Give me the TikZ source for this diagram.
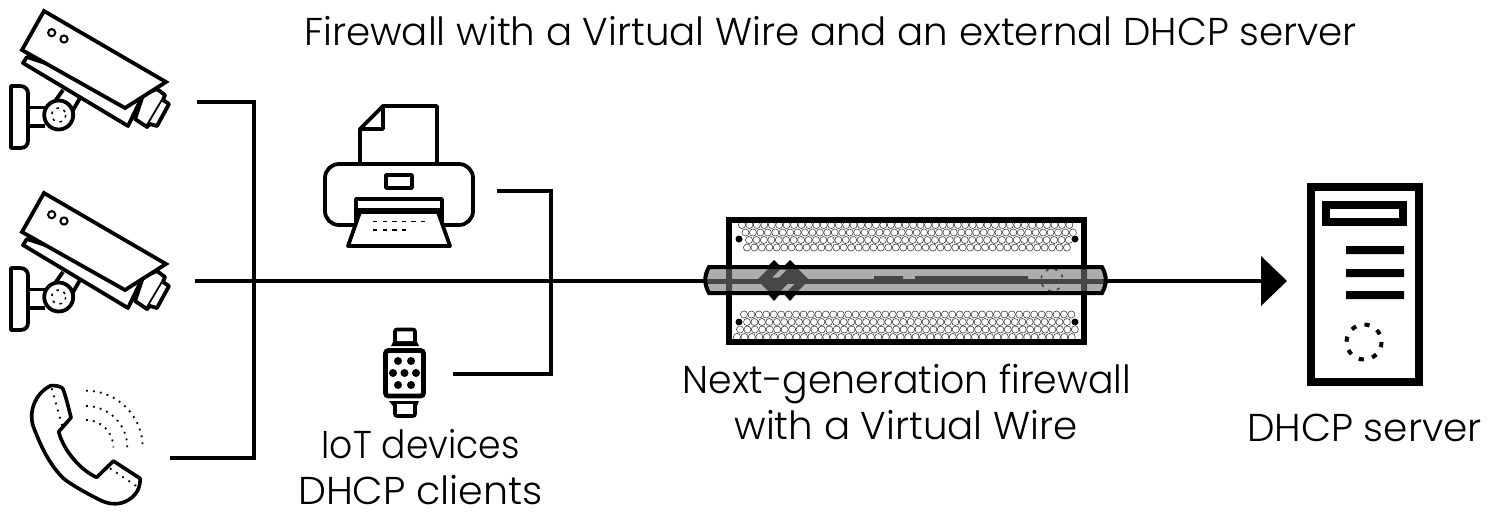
\documentclass[tikz,border=0pt]{standalone}
\usepackage{fontspec}
\usepackage{graphicx}
\setmainfont{Poppins Light}
\usetikzlibrary{calc}
\definecolor{barfill}{gray}{0.68}
\definecolor{bardark}{gray}{0.28}
\tikzset{
  px/.style={x=0.5pt,y=-0.5pt},
  icon/.style={draw=black,line width=1.9pt,line join=miter,fill=white},
  thin icon/.style={draw=black,line width=1.9pt,line join=round},
  wire/.style={draw=black,line width=2.4pt},
  lab/.style={font=\fontsize{19.4}{22}\selectfont,inner sep=0pt,anchor=base,align=center},
  hex/.style={draw=black!75,line width=0.3pt},
  camera/.pic={
    \draw[thin icon,fill=white] (11,86)--(20,86) .. controls (26,86) and (28,90) .. (28,94)--(28,140) .. controls (28,145) and (26,148) .. (20,148)--(11,148)--cycle;
    \draw[thin icon] (28,107.5)--(45,107.5) (28,126)--(45,126);
    \draw[thin icon] (63,90)--(53,104) (80,98)--(72,112);
    \draw[thin icon,fill=white] (58.7,115) circle (14.5);
    \draw[black,line width=0.75pt,dash pattern=on 1.3pt off 2.5pt] (58.7,115) circle (7);
    \draw[thin icon,fill=white] (27,57)--(23,63)--(128,126)--(143,95)--cycle;
    \draw[thin icon,fill=white] (143,95)--(157,89)--(165,95)--(163,100)--(147,127)--(135,119)--cycle;
    \draw[thin icon,fill=white] (163,100)--(169,104)--(157,126)--(150,124)--(147,127);
    \draw[icon] (44,11)--(166,82)--(125,108)--(22,50)--cycle;
    \draw[black,line width=1pt] (51.7,32.7) circle (3.6) (64,39) circle (3.6);
  }
}
\begin{document}
\begin{tikzpicture}[px]
\useasboundingbox (0,0) rectangle (1500,525);
% wires
\coordinate (trunkL) at (195,281);
\coordinate (tip) at (1265,281);
\coordinate (a1) at (197,102); \coordinate (a2) at (254,102); \coordinate (a3) at (254,458); \coordinate (a4) at (170,458);
\coordinate (b1) at (497,191); \coordinate (b2) at (551,191); \coordinate (b3) at (551,374); \coordinate (b4) at (453,374);
\draw[wire] (a1)--(a2)--(a3)--(a4);
\draw[wire] (b1)--(b2)--(b3)--(b4);
\draw[wire] (trunkL)--(tip);
\fill[black] (1261,256)--(1287,281)--(1261,306)--cycle;
% cameras
\pic at (0,0) {camera};
\pic at (0,182) {camera};
% phone
\begin{scope}[shift={(0,370)},x=0.1667pt,y=-0.1667pt]
\draw[thin icon,line width=1.8pt] (152,47) .. controls (165,46) and (180,48) .. (188,55) .. controls (195,70) and (205,110) .. (213,143)
  -- (176,185) .. controls (190,240) and (240,300) .. (290,322) -- (340,273) -- (420,325)
  .. controls (422,350) and (410,375) .. (385,390) .. controls (360,405) and (330,405) .. (300,390)
  .. controls (260,370) and (215,345) .. (190,325) .. controls (150,285) and (125,235) .. (100,170)
  .. controls (85,125) and (105,70) .. (152,47) -- cycle;
\draw[black,line width=0.9pt,dash pattern=on 0.9pt off 2.8pt] (155,55)--(187,168) (330,295)--(412,350);
\draw[black,line width=0.9pt,dash pattern=on 0.9pt off 2.6pt]
  (258,62) arc[start angle=-90,end angle=0,radius=170]
  (258,108) arc[start angle=-90,end angle=0,radius=124]
  (258,150) arc[start angle=-90,end angle=0,radius=82];
\end{scope}
% printer
\draw[thin icon,fill=white] (360,162)--(360,129)--(383,106)--(437,106)--(437,162);
\draw[thin icon] (383,106)--(383,129)--(360,129);
\draw[thin icon,fill=white,rounded corners=7pt] (325,164) rectangle (473,225);
\draw[thin icon] (386,175) rectangle (412,188);
\draw[thin icon,fill=white] (356,199)--(442,199)--(442,225)--(356,225)--cycle;
\draw[thin icon] (358,210)--(440,210);
\draw[thin icon,fill=white] (360,212)--(438,212)--(450,246)--(348,246)--cycle;
\draw[black,line width=0.9pt,dash pattern=on 2.2pt off 2.6pt] (373,221.5)--(427,221.5) (373,230)--(410,230);
% watch
\fill[black] (391,346)--(394,340)--(416,340)--(419,346)--cycle;
\draw[black,line width=1.8pt,fill=white,rounded corners=1pt] (395,341)--(395,329.5)--(415,329.5)--(415,341);
\fill[black] (389,401)--(419,401)--(417,406)--(393,406)--cycle;
\draw[black,line width=1.8pt,fill=white,rounded corners=1pt] (395,404)--(395,416)--(415,416)--(415,404);
\draw[icon,line width=2.4pt,rounded corners=1.5pt] (385.5,350.5) rectangle (423.5,396);
\foreach \p/\q in {398/361,411/361,393/373,404.5/373,416/373,398/385,411/385}{\fill[black] (\p,\q) circle (4);}
% firewall
\begin{scope}
\clip (731,223) rectangle (1082,339);
\foreach \yy/\st/\n in {225/742/44,232.5/745.5/44,240/749/43,247.5/747/43,314.5/744/44,322/747/43,329.5/740/45,337/737/45}{
  \foreach \i in {0,...,\n}{
    \draw[hex] ({\st+\i*7.44},\yy) circle (3.55);
  }
}
\end{scope}
\draw[black,line width=3pt] (729,220) rectangle (1084,342);
\foreach \p/\q in {739/239,1075/239,739/322,1075/322}{\fill[white] (\p,\q) circle (4.5);\fill[black] (\p,\q) circle (3.5);}
% bar body with what shows through it
\fill[black] (767,267)--(774,260)--(781,267)--cycle (783,267)--(790,260)--(797,267)--cycle (767,293)--(774,301)--(781,293)--cycle (783,293)--(790,301)--(797,293)--cycle;
\path[fill=barfill] (709,267)--(1102,267) .. controls (1107,276) and (1107,284) .. (1102,293)--(709,293) .. controls (704,284) and (704,276) .. (709,267)--cycle;
\fill[bardark] (726,267) rectangle (732,293) (1081,267) rectangle (1087,293);
\fill[bardark] (707,278.5) rectangle (1105,283.5);
% logo
\fill[bardark,even odd rule] (757,280)--(769,268)--(797,268)--(809,280)--(797,292)--(769,292)--cycle
  (772,277.5)--(780,269.5)--(787,269.5)--(779,277.5)--cycle
  (781,290.5)--(788,283.5)--(795,283.5)--(788,290.5)--cycle;
\fill[bardark] (874,276) rectangle (903,279) (915,276) rectangle (1028,279);
\draw[bardark,line width=0.8pt,dash pattern=on 1.5pt off 3pt] (1052,280) circle (11);
\draw[black,line width=2pt] (709,267)--(1102,267) .. controls (1107,276) and (1107,284) .. (1102,293)--(709,293) .. controls (704,284) and (704,276) .. (709,267)--cycle;
% server
\draw[black,line width=4pt,fill=white] (1311,186.5) rectangle (1419,381.5);
\draw[black,line width=4pt] (1326,205) rectangle (1403,222);
\fill[black] (1346,246) rectangle (1404,254) (1346,269) rectangle (1404,277) (1346,291) rectangle (1404,299);
\draw[black,line width=2pt,dash pattern=on 2.6pt off 4.3pt] (1364,342) circle (17.5);
% labels
\node[lab] (title) at (830.5,45.5) {Firewall with a Virtual Wire and an external DHCP server};
\node[lab] (fwlabel) at (907,393.5) {\scalebox{0.975}[1]{Next-generation firewall}};
\node[lab] (fwlabel2) at (906,439) {with a Virtual Wire};
\node[lab] (srv) at (1364.5,441.5) {\scalebox{1.005}[1]{DHCP server}};
\node[lab] (iot) at (420.5,458.5) {\scalebox{0.93}[1]{IoT devices}};
\node[lab] (cl) at (420.5,504) {\scalebox{1.02}[1]{DHCP clients}};
\end{tikzpicture}
\end{document}
